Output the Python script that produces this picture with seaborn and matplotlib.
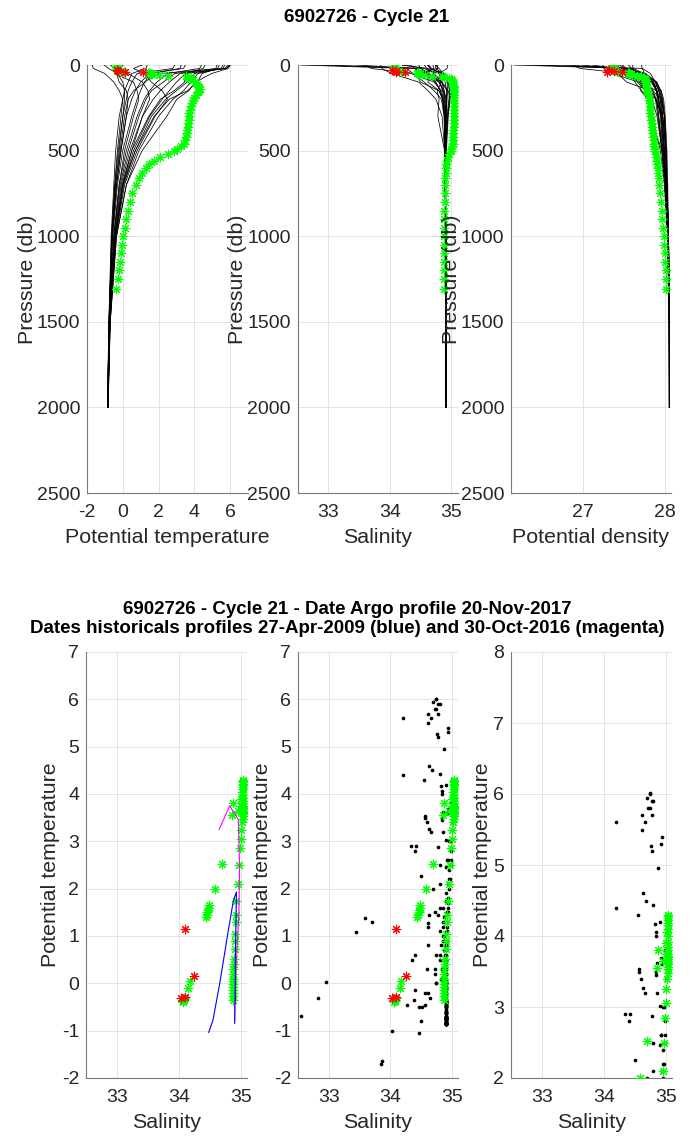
import numpy as np
import pandas as pd
import matplotlib
matplotlib.use("Agg")
import matplotlib.pyplot as plt
import seaborn as sns

sns.set_theme(style="white")
plt.rcParams["font.family"] = ["Liberation Sans", "DejaVu Sans"]
plt.rcParams["axes.unicode_minus"] = False

# ---------------- data ----------------
TITLE_TOP = "6902726 - Cycle 21"
TITLE_BOTTOM = ("6902726 - Cycle 21 - Date Argo profile 20-Nov-2017\n"
                "Dates historicals profiles 27-Apr-2009 (blue) and 30-Oct-2016 (magenta)")

# historical profiles (pressure levels shared)
HIST_P = [0, 20, 50, 100, 150, 200, 300, 500, 700, 1000, 1500, 2000]
HIST_T = [
    [6.0, 5.8, 3.2, 2.6, 2.1, 1.7, 1.1, 0.4, -0.1, -0.45, -0.73, -0.83],
    [5.6, 5.5, 4.2, 3.8, 3.4, 2.8, 2.0, 0.9, 0.2, -0.35, -0.7, -0.82],
    [4.4, 4.3, 2.5, 1.9, 1.5, 1.2, 0.8, 0.2, -0.2, -0.5, -0.74, -0.84],
    [5.9, 5.7, 2.0, 1.2, 1.0, 0.8, 0.5, 0.0, -0.3, -0.55, -0.75, -0.84],
    [3.5, 3.4, 1.5, 1.0, 0.7, 0.5, 0.2, -0.1, -0.35, -0.58, -0.76, -0.85],
    [2.9, 2.8, 0.8, 0.5, 0.3, 0.2, 0.0, -0.25, -0.45, -0.62, -0.77, -0.85],
    [1.37, 1.3, 0.5, 0.3, 0.1, 0.0, -0.2, -0.4, -0.5, -0.65, -0.78, -0.86],
    [-0.69, -0.45, -0.35, -0.2, 0.2, 0.3, 0.2, -0.1, -0.35, -0.6, -0.76, -0.85],
    [-0.3, -0.5, -0.45, 0.6, 0.8, 0.9, 0.6, 0.1, -0.2, -0.5, -0.74, -0.84],
    [0.02, -0.15, 0.3, 1.1, 1.4, 1.5, 1.1, 0.5, 0.0, -0.4, -0.72, -0.83],
    [1.08, 0.6, 1.2, 1.6, 2.2, 2.5, 1.8, 0.8, 0.1, -0.38, -0.71, -0.83],
    [-1.7, -1.65, -1.0, -0.5, -0.2, 0.0, -0.1, -0.3, -0.45, -0.62, -0.77, -0.85],
    [4.6, 4.5, 3.5, 3.0, 2.6, 2.2, 1.5, 0.6, 0.0, -0.42, -0.72, -0.83],
    [5.27, 5.2, 2.9, 2.26, 1.6, 1.3, 0.9, 0.3, -0.15, -0.48, -0.74, -0.84],
    [5.7, 5.6, 4.0, 3.6, 3.0, 2.4, 1.6, 0.7, 0.05, -0.4, -0.72, -0.83],
    [3.27, 3.2, 1.44, 1.27, 0.6, 0.3, 0.1, -0.15, -0.4, -0.6, -0.77, -0.85],
    [5.94, 5.8, 3.53, 3.45, 2.87, 2.1, 1.45, 0.5, -0.05, -0.45, -0.73, -0.84],
    [-1.05, -0.8, -0.3, 0.0, 0.1, 0.1, 0.0, -0.2, -0.4, -0.6, -0.77, -0.85],
    [6.01, 5.9, 4.96, 4.06, 3.69, 3.02, 2.46, 1.08, 0.2, -0.35, -0.7, -0.82],
    [5.4, 5.3, 4.43, 4.17, 3.62, 2.6, 1.75, 0.7, 0.0, -0.42, -0.72, -0.83],
]
HIST_S = [
    [34.74, 34.75, 34.86, 34.93, 34.94, 34.93, 34.92, 34.91, 34.91, 34.91, 34.91, 34.91],
    [34.20, 34.62, 34.90, 34.98, 35.00, 34.98, 34.95, 34.92, 34.91, 34.91, 34.91, 34.91],
    [34.20, 34.55, 34.80, 34.90, 34.92, 34.92, 34.91, 34.90, 34.90, 34.91, 34.91, 34.91],
    [34.77, 34.78, 34.70, 34.85, 34.88, 34.90, 34.90, 34.90, 34.90, 34.91, 34.91, 34.91],
    [34.56, 34.60, 34.72, 34.85, 34.88, 34.89, 34.90, 34.90, 34.90, 34.91, 34.91, 34.91],
    [34.34, 34.40, 34.62, 34.80, 34.86, 34.88, 34.89, 34.90, 34.90, 34.91, 34.91, 34.91],
    [33.59, 33.70, 34.35, 34.72, 34.84, 34.87, 34.89, 34.90, 34.90, 34.91, 34.91, 34.91],
    [32.55, 34.27, 34.38, 34.56, 34.72, 34.84, 34.88, 34.90, 34.90, 34.91, 34.91, 34.91],
    [32.82, 34.52, 34.56, 34.74, 34.82, 34.86, 34.89, 34.90, 34.90, 34.91, 34.91, 34.91],
    [32.95, 34.40, 34.60, 34.80, 34.88, 34.92, 34.92, 34.91, 34.90, 34.91, 34.91, 34.91],
    [33.45, 34.40, 34.62, 34.85, 34.95, 34.98, 34.94, 34.91, 34.90, 34.91, 34.91, 34.91],
    [33.85, 33.87, 34.03, 34.47, 34.62, 34.75, 34.85, 34.89, 34.90, 34.91, 34.91, 34.91],
    [34.63, 34.68, 34.84, 34.95, 34.98, 34.97, 34.94, 34.91, 34.90, 34.91, 34.91, 34.91],
    [34.76, 34.78, 34.42, 34.50, 34.80, 34.86, 34.90, 34.90, 34.90, 34.91, 34.91, 34.91],
    [34.61, 34.66, 34.84, 34.94, 34.97, 34.96, 34.93, 34.91, 34.90, 34.91, 34.91, 34.91],
    [34.63, 34.66, 34.63, 34.62, 34.80, 34.86, 34.89, 34.90, 34.90, 34.91, 34.91, 34.91],
    [34.70, 34.72, 34.56, 34.84, 34.77, 34.80, 34.78, 34.89, 34.90, 34.91, 34.91, 34.91],
    [34.47, 34.50, 34.65, 34.75, 34.82, 34.86, 34.89, 34.90, 34.90, 34.91, 34.91, 34.91],
    [34.74, 34.80, 34.87, 34.84, 34.93, 34.91, 34.90, 34.91, 34.90, 34.91, 34.91, 34.91],
    [34.94, 34.93, 34.80, 34.82, 34.86, 34.92, 34.91, 34.90, 34.90, 34.91, 34.91, 34.91],
]
HIST_D = [
    [27.38, 27.41, 27.75, 27.85, 27.90, 27.92, 27.95, 27.99, 28.01, 28.03, 28.05, 28.05],
    [26.99, 27.34, 27.69, 27.79, 27.84, 27.88, 27.91, 27.96, 28.00, 28.03, 28.04, 28.05],
    [27.11, 27.40, 27.75, 27.88, 27.92, 27.94, 27.96, 27.99, 28.01, 28.03, 28.05, 28.05],
    [27.42, 27.44, 27.71, 27.89, 27.92, 27.95, 27.97, 28.00, 28.02, 28.04, 28.05, 28.05],
    [27.48, 27.52, 27.76, 27.90, 27.94, 27.96, 27.99, 28.01, 28.02, 28.04, 28.05, 28.05],
    [27.36, 27.41, 27.73, 27.89, 27.95, 27.97, 27.99, 28.01, 28.02, 28.04, 28.05, 28.05],
    [26.87, 26.96, 27.53, 27.84, 27.95, 27.98, 28.00, 28.02, 28.03, 28.04, 28.05, 28.05],
    [26.16, 27.52, 27.60, 27.74, 27.85, 27.94, 27.97, 28.01, 28.02, 28.04, 28.05, 28.05],
    [26.35, 27.72, 27.75, 27.84, 27.89, 27.92, 27.96, 27.99, 28.01, 28.03, 28.05, 28.05],
    [26.44, 27.61, 27.74, 27.85, 27.90, 27.92, 27.95, 27.98, 28.00, 28.03, 28.05, 28.05],
    [26.77, 27.57, 27.70, 27.86, 27.90, 27.90, 27.92, 27.96, 27.99, 28.03, 28.05, 28.05],
    [27.24, 27.25, 27.35, 27.68, 27.79, 27.88, 27.97, 28.01, 28.02, 28.04, 28.05, 28.05],
    [27.44, 27.49, 27.70, 27.83, 27.89, 27.91, 27.94, 27.97, 28.00, 28.03, 28.05, 28.05],
    [27.47, 27.50, 27.42, 27.53, 27.82, 27.89, 27.95, 27.98, 28.01, 28.03, 28.05, 28.05],
    [27.31, 27.36, 27.66, 27.78, 27.85, 27.89, 27.92, 27.97, 28.00, 28.03, 28.05, 28.05],
    [27.55, 27.59, 27.70, 27.70, 27.89, 27.95, 27.99, 28.01, 28.02, 28.04, 28.05, 28.05],
    [27.36, 27.39, 27.48, 27.71, 27.70, 27.79, 27.81, 27.96, 28.00, 28.03, 28.05, 28.05],
    [27.71, 27.72, 27.82, 27.88, 27.93, 27.96, 27.99, 28.01, 28.02, 28.04, 28.05, 28.05],
    [27.38, 27.44, 27.59, 27.66, 27.76, 27.80, 27.84, 27.94, 27.99, 28.03, 28.05, 28.05],
    [27.60, 27.61, 27.59, 27.63, 27.71, 27.84, 27.90, 27.96, 28.00, 28.03, 28.05, 28.05],
]

# current Argo profile (good points, green)
CUR_P = [4, 8, 12, 16, 20, 24, 28, 36, 38, 45, 47, 49, 51, 53, 55, 58, 62, 66, 70,
         75, 80, 90, 100, 110, 120, 130, 140, 150, 160, 175, 190, 205, 220, 240,
         260, 280, 300, 320, 340, 360, 380, 400, 420, 440, 460, 475, 490, 505, 520,
         540, 560, 580, 600, 630, 660, 700, 750, 800, 850, 900, 950, 1000, 1050,
         1100, 1150, 1200, 1250, 1310]
CUR_T = [-0.40, -0.38, -0.36, -0.35, -0.33, -0.32, -0.30, -0.10, 0.05, 1.40, 1.45,
         1.50, 1.55, 1.60, 1.65, 2.00, 2.52, 3.55, 3.80, 3.65, 3.75, 3.90, 4.05,
         4.15, 4.22, 4.28, 4.30, 4.25, 4.18, 4.10, 4.00, 3.92, 3.85, 3.80, 3.75,
         3.72, 3.70, 3.68, 3.65, 3.62, 3.60, 3.57, 3.53, 3.48, 3.40, 3.25, 3.05,
         2.85, 2.50, 2.10, 1.75, 1.45, 1.30, 1.05, 0.90, 0.72, 0.52, 0.40, 0.30,
         0.20, 0.10, 0.04, -0.02, -0.08, -0.14, -0.20, -0.27, -0.36]
CUR_S = [34.06, 34.07, 34.07, 34.08, 34.08, 34.09, 34.10, 34.15, 34.18, 34.44,
         34.45, 34.46, 34.47, 34.48, 34.49, 34.58, 34.69, 34.85, 34.88, 34.96,
         35.00, 35.01, 35.02, 35.03, 35.03, 35.04, 35.04, 35.04, 35.04, 35.04,
         35.04, 35.04, 35.04, 35.04, 35.04, 35.04, 35.04, 35.04, 35.04, 35.04,
         35.03, 35.03, 35.03, 35.03, 35.02, 35.01, 35.00, 34.99, 34.97, 34.95,
         34.93, 34.92, 34.92, 34.91, 34.90, 34.90, 34.89, 34.89, 34.88, 34.88,
         34.88, 34.88, 34.88, 34.88, 34.88, 34.88, 34.88, 34.88]
CUR_D = [27.35, 27.36, 27.36, 27.36, 27.36, 27.37, 27.38, 27.41, 27.42, 27.55,
         27.55, 27.56, 27.56, 27.56, 27.57, 27.62, 27.66, 27.71, 27.71, 27.74,
         27.75, 27.76, 27.76, 27.77, 27.77, 27.78, 27.78, 27.78, 27.79, 27.79,
         27.80, 27.80, 27.81, 27.81, 27.82, 27.82, 27.83, 27.83, 27.84, 27.84,
         27.84, 27.85, 27.85, 27.86, 27.86, 27.86, 27.87, 27.88, 27.89, 27.89,
         27.90, 27.90, 27.91, 27.91, 27.92, 27.92, 27.93, 27.95, 27.96, 27.96,
         27.97, 27.98, 27.99, 28.00, 28.00, 28.01, 28.01, 28.01]

# flagged points of the current profile (red)
BAD_P = [31, 34, 40, 43]
BAD_T = [-0.30, -0.28, 0.15, 1.15]
BAD_S = [34.03, 34.10, 34.25, 34.10]
BAD_D = [27.32, 27.38, 27.47, 27.29]

# the two reference historical profiles (theta/S)
BLUE_S = [34.48, 34.55, 34.66, 34.79, 34.88, 34.93, 34.92, 34.91, 34.91, 34.90]
BLUE_T = [-1.04, -0.78, 0.0, 1.05, 1.75, 1.93, 1.2, 0.4, -0.3, -0.85]
MAG_S = [34.65, 34.82, 34.96, 34.98, 34.97, 34.94, 34.92, 34.90, 34.90]
MAG_T = [3.25, 3.75, 3.46, 2.5, 1.5, 0.8, 0.2, -0.4, -0.8]

# ---------------- tables ----------------
rows = []
for i, (tt, ss, dd) in enumerate(zip(HIST_T, HIST_S, HIST_D)):
    for p, t, s, d in zip(HIST_P, tt, ss, dd):
        rows.append(dict(id=i, P=p, T=t, S=s, D=d))
hist = pd.DataFrame(rows)
cur = pd.DataFrame(dict(P=CUR_P, T=CUR_T, S=CUR_S, D=CUR_D))
bad = pd.DataFrame(dict(P=BAD_P, T=BAD_T, S=BAD_S, D=BAD_D))
blue = pd.DataFrame(dict(S=BLUE_S, T=BLUE_T))
mag = pd.DataFrame(dict(S=MAG_S, T=MAG_T))

# ---------------- figure ----------------
W, H = 691, 1136
fig = plt.figure(figsize=(W / 100, H / 100), dpi=100)

def px_axes(x0, y0, x1, y1):
    return fig.add_axes([x0 / W, 1 - y1 / H, (x1 - x0) / W, (y1 - y0) / H])

TXT = "#262626"
STAR = (8, 2, 0)
GREEN = "#00ff00"
RED = "#ff0000"

def style(ax):
    ax.set_facecolor("white")
    ax.grid(True, color="#e3e3e3", lw=0.7)
    ax.set_axisbelow(True)
    for side in ["top", "right"]:
        ax.spines[side].set_visible(False)
    for side in ["left", "bottom"]:
        ax.spines[side].set_color("#7a7a7a")
        ax.spines[side].set_linewidth(0.8)
    ax.tick_params(direction="in", length=3, width=0.6, color="#7a7a7a",
                   labelsize=14, labelcolor=TXT)
    ax.tick_params(axis="x", pad=8)
    ax.tick_params(axis="y", pad=5)

top_boxes = [(87, 65, 248, 493), (297.5, 65, 457.5, 493), (511, 65, 671, 493)]
bot_boxes = [(86, 652, 247, 1078), (298, 652, 458, 1078), (511, 652, 672, 1078)]

top_vars = [("T", (-2, 7), [-2, 0, 2, 4, 6], "Potential temperature"),
            ("S", (32.5, 35.1), [33, 34, 35], "Salinity"),
            ("D", (26.12, 28.07), [27, 28], "Potential density")]

for box, (var, xl, xt, lab) in zip(top_boxes, top_vars):
    ax = px_axes(*box)
    style(ax)
    sns.lineplot(data=hist, x=var, y="P", units="id", estimator=None, sort=False,
                 color="black", lw=0.55, ax=ax, legend=False)
    sns.scatterplot(data=cur, x=var, y="P", marker=STAR, s=38, color=GREEN,
                    edgecolor=GREEN, linewidth=0.8, ax=ax, legend=False, zorder=3)
    sns.scatterplot(data=bad, x=var, y="P", marker=STAR, s=38, color=RED,
                    edgecolor=RED, linewidth=0.8, ax=ax, legend=False, zorder=4)
    ax.set_xlim(*xl)
    ax.set_xticks(xt)
    ax.set_ylim(2500, 0)
    ax.set_yticks([0, 500, 1000, 1500, 2000, 2500])
    ax.set_xlabel(lab, fontsize=15.4, color=TXT, labelpad=5)
    ax.set_ylabel("Pressure (db)", fontsize=15.4, color=TXT, labelpad=0)

fig.text(367 / W, 1 - 17 / H, TITLE_TOP, ha="center", va="center",
         fontsize=13.5, fontweight="bold", color="black")

bot_ylims = [((-2, 7), range(-2, 8)), ((-2, 7), range(-2, 8)), ((2, 8), range(2, 9))]
for j, (box, (yl, yt)) in enumerate(zip(bot_boxes, bot_ylims)):
    ax = px_axes(*box)
    style(ax)
    if j > 0:
        sns.scatterplot(data=hist, x="S", y="T", marker="o", s=7, color="black",
                        linewidth=0, ax=ax, legend=False, zorder=2)
    sns.scatterplot(data=cur, x="S", y="T", marker=STAR, s=38, color=GREEN,
                    edgecolor=GREEN, linewidth=0.8, ax=ax, legend=False, zorder=3)
    sns.scatterplot(data=bad, x="S", y="T", marker=STAR, s=38, color=RED,
                    edgecolor=RED, linewidth=0.8, ax=ax, legend=False, zorder=4)
    if j == 0:
        sns.lineplot(data=mag, x="S", y="T", estimator=None, sort=False,
                     color="#ff00ff", lw=0.8, ax=ax, legend=False, zorder=5)
        sns.lineplot(data=blue, x="S", y="T", estimator=None, sort=False,
                     color="#0000ff", lw=0.8, ax=ax, legend=False, zorder=5)
    ax.set_xlim(32.5, 35.1)
    ax.set_xticks([33, 34, 35])
    ax.set_ylim(*yl)
    ax.set_yticks(list(yt))
    ax.set_xlabel("Salinity", fontsize=15.4, color=TXT, labelpad=5)
    ax.set_ylabel("Potential temperature", fontsize=15.4, color=TXT, labelpad=1)

fig.text(347 / W, 1 - 619 / H, TITLE_BOTTOM, ha="center", va="center",
         fontsize=13.5, fontweight="bold", color="black", linespacing=1.15)

fig.savefig("out.png", dpi=100, facecolor="white")
